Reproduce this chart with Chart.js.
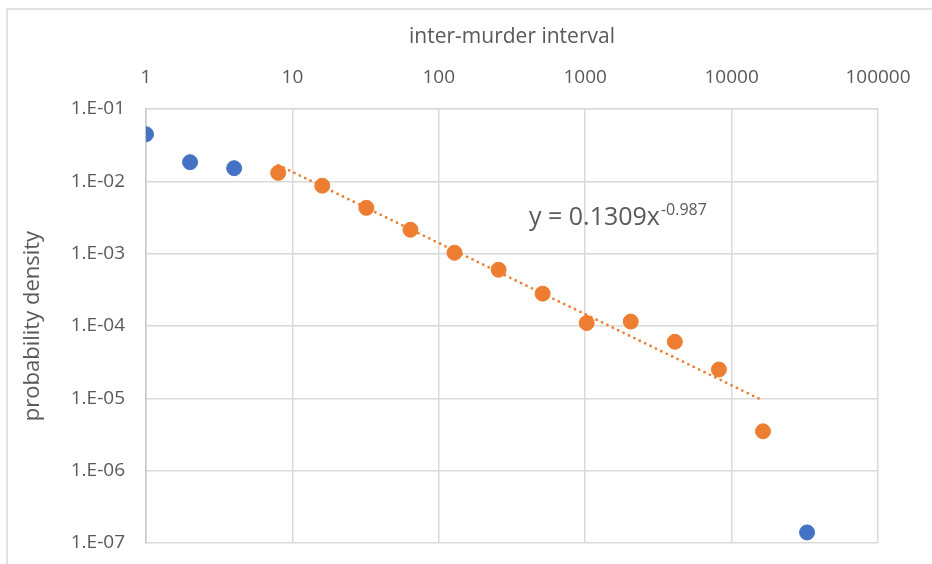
<!DOCTYPE html>
<html>
<head>
<meta charset="utf-8">
<script src="https://cdn.jsdelivr.net/npm/chart.js@4"></script>
<style>
    html, body { margin: 0; padding: 0; background: #ffffff; }
    #wrap { width: 932px; height: 564px; }
</style>
</head>
<body>
<div id="wrap"><canvas id="murderChart" width="932" height="564"></canvas></div>
<script>
// data
const blueX = [1, 2, 4, 32768];
const blueY = [0.0448, 0.0184, 0.0152, 1.4e-7];
const orangeX = [8, 16, 32, 64, 128, 256, 512, 1024, 2048, 4096, 8192, 16384];
const orangeY = [0.0131, 0.0087, 0.0043, 0.00214, 0.00103, 0.0006, 0.00028, 0.00011, 0.000115, 0.0000605, 0.000025, 0.0000035];
const trendX = [8, 16384];
const trendY = [0.0168, 9.3e-6];
const xTicks = [1, 10, 100, 1000, 10000, 100000];
const xTickLabels = ['1', '10', '100', '1000', '10000', '100000'];
const yTicks = [1e-1, 1e-2, 1e-3, 1e-4, 1e-5, 1e-6, 1e-7];
const yTickLabels = ['1.E-01', '1.E-02', '1.E-03', '1.E-04', '1.E-05', '1.E-06', '1.E-07'];
const equationMain = 'y = 0.1309x';
const equationExp = '-0.987';

const FONT = '"Open Sans", "DejaVu Sans", sans-serif';
const GREY_TEXT = '#595959';
const GRID = '#d9d9d9';

const toPoints = (xs, ys) => xs.map((x, i) => ({ x: x, y: ys[i] }));

// light frame round the chart, like the excel chart area border
const frame = {
    id: 'frame',
    beforeDraw(chart) {
        const { ctx } = chart;
        ctx.save();
        ctx.strokeStyle = GRID;
        ctx.lineWidth = 1.5;
        ctx.beginPath();
        ctx.moveTo(7, chart.height);
        ctx.lineTo(7, 9);
        ctx.lineTo(chart.width, 9);
        ctx.stroke();
        ctx.restore();
    }
};

// trendline equation
const equation = {
    id: 'equation',
    afterDraw(chart) {
        const { ctx } = chart;
        ctx.save();
        ctx.fillStyle = GREY_TEXT;
        ctx.textBaseline = 'alphabetic';
        ctx.textAlign = 'left';
        ctx.font = '25px ' + FONT;
        const x = 529;
        const y = 225;
        ctx.fillText(equationMain, x, y);
        const w = ctx.measureText(equationMain).width;
        ctx.font = '16px ' + FONT;
        ctx.fillText(equationExp, x + w + 1, y - 10);
        ctx.restore();
    }
};

const config = {
    type: 'scatter',
    data: {
        datasets: [
            {
                label: 'trend',
                type: 'line',
                data: toPoints(trendX, trendY),
                borderColor: '#ED7D31',
                borderWidth: 2.8,
                borderDash: [0, 6],
                borderCapStyle: 'round',
                pointRadius: 0,
                fill: false,
                order: 0
            },
            {
                label: 'orange',
                data: toPoints(orangeX, orangeY),
                backgroundColor: '#ED7D31',
                borderColor: '#ED7D31',
                pointRadius: 7.5,
                order: 1
            },
            {
                label: 'blue',
                data: toPoints(blueX, blueY),
                backgroundColor: '#4472C4',
                borderColor: '#4472C4',
                pointRadius: 7.5,
                order: 1
            }
        ]
    },
    options: {
        responsive: false,
        animation: false,
        layout: { padding: { left: 12, top: 12, right: 54, bottom: 21 } },
        plugins: {
            legend: { display: false },
            tooltip: { enabled: false }
        },
        scales: {
            x: {
                type: 'logarithmic',
                position: 'top',
                min: 1,
                max: 100000,
                afterBuildTicks(scale) {
                    scale.ticks = xTicks.map(v => ({ value: v }));
                },
                afterFit(scale) {
                    scale.height = 97;
                },
                ticks: {
                    autoSkip: false,
                    maxRotation: 0,
                    padding: 20,
                    color: GREY_TEXT,
                    font: { family: FONT, size: 19 },
                    callback: function (value) {
                        const i = xTicks.indexOf(value);
                        return i >= 0 ? xTickLabels[i] : '';
                    }
                },
                grid: { color: GRID, lineWidth: 1.5, drawTicks: false },
                border: { color: GRID, width: 1.5 },
                title: {
                    display: true,
                    text: 'inter-murder interval',
                    color: GREY_TEXT,
                    font: { family: FONT, size: 21 },
                    padding: { top: 12, bottom: 0 }
                }
            },
            y: {
                type: 'logarithmic',
                min: 1e-7,
                max: 1e-1,
                afterBuildTicks(scale) {
                    scale.ticks = yTicks.map(v => ({ value: v }));
                },
                afterFit(scale) {
                    scale.width = 134;
                    // labels may hang past the plot, don't shrink it for them
                    scale.paddingTop = 0;
                    scale.paddingBottom = 0;
                },
                ticks: {
                    autoSkip: false,
                    padding: 21,
                    color: GREY_TEXT,
                    font: { family: FONT, size: 19 },
                    callback: function (value) {
                        const i = yTicks.findIndex(t => Math.abs(Math.log10(t) - Math.log10(value)) < 1e-6);
                        return i >= 0 ? yTickLabels[i] : '';
                    }
                },
                grid: { color: GRID, lineWidth: 1.5, drawTicks: false },
                border: { color: '#c8c8c8', width: 1.5 },
                title: {
                    display: true,
                    text: 'probability density',
                    color: GREY_TEXT,
                    font: { family: FONT, size: 22 },
                    padding: { top: 8, bottom: 0 }
                }
            }
        }
    },
    plugins: [frame, equation]
};

const myChart = new Chart(document.getElementById('murderChart'), config);
</script>
</body>
</html>
